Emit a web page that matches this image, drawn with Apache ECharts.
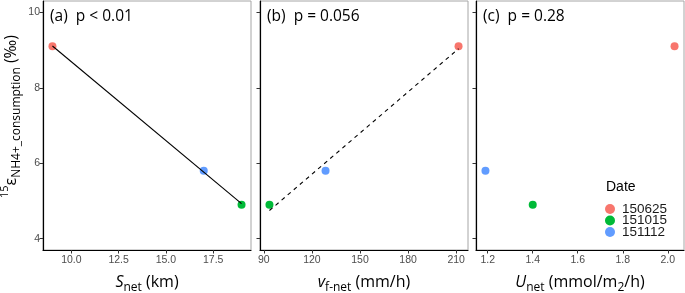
<!DOCTYPE html>
<html>
<head>
<meta charset="utf-8">
<script src="https://cdn.jsdelivr.net/npm/echarts@6/dist/echarts.min.js"></script>
<style>
  html, body { margin: 0; padding: 0; background: #fff; }
  #chart { width: 685px; height: 293px; }
</style>
</head>
<body>
<div id="chart"></div>
<script>
const dates = ['150625', '151015', '151112']
const colors = ['#F8766D', '#00BA38', '#619CFF']

// 15ε NH4+ consumption (‰) per date
const epsilon = [9.1, 4.9, 5.8]
// x variables for the three panels
const sNet = [9.0, 19.0, 17.0]
const vfNet = [211.5, 93.5, 128.5]
const uNet = [2.03, 1.4, 1.19]

const yTicks = [4, 6, 8, 10]
const panelLabels = ['(a)  p < 0.01', '(b)  p = 0.056', '(c)  p = 0.28']

// least squares fit, returns the line over the data range
const fitLine = (xs, ys) => {
  const n = xs.length
  const mx = xs.reduce((a, b) => a + b, 0) / n
  const my = ys.reduce((a, b) => a + b, 0) / n
  let sxy = 0
  let sxx = 0
  xs.forEach((x, i) => {
    sxy += (x - mx) * (ys[i] - my)
    sxx += (x - mx) * (x - mx)
  })
  const slope = sxy / sxx
  const x0 = Math.min(...xs)
  const x1 = Math.max(...xs)
  return [
    [x0, my + slope * (x0 - mx)],
    [x1, my + slope * (x1 - mx)]
  ]
}

const panels = [
  { xs: sNet, min: 8.5, max: 19.5, ticks: [10, 12.5, 15, 17.5], fmt: (v) => v.toFixed(1),
    name: '{it|S}{sub|net}{n| (km)}', fit: 'solid' },
  { xs: vfNet, min: 87.6, max: 217.4, ticks: [90, 120, 150, 180, 210], fmt: (v) => String(v),
    name: '{it|v}{sub|f-net}{n| (mm/h)}', fit: 'dashed' },
  { xs: uNet, min: 1.148, max: 2.072, ticks: [1.2, 1.4, 1.6, 1.8, 2.0], fmt: (v) => v.toFixed(1),
    name: '{it|U}{sub|net}{n| (mmol/m}{sub|2}{n|/h)}', fit: null }
]

const gridLefts = [43, 260, 476]
const gridWidth = 208

const nameRich = {
  n: { fontFamily: 'Open Sans', fontSize: 16, color: '#000', lineHeight: 24 },
  it: { fontFamily: 'Open Sans', fontSize: 16, fontStyle: 'italic', color: '#000', lineHeight: 24 },
  sub: { fontFamily: 'Open Sans', fontSize: 12, color: '#000', lineHeight: 24, verticalAlign: 'bottom', padding: [7, 0, 0, 0] },
  sup: { fontFamily: 'Open Sans', fontSize: 11, color: '#000', lineHeight: 24, verticalAlign: 'top', padding: [0, 0, 1, 0] }
}

const grid = gridLefts.map((left) => ({
  left,
  top: 1,
  width: gridWidth,
  height: 249,
  outerBoundsMode: 'none',
  containLabel: false,
  show: true,
  borderColor: '#a6a6a6',
  borderWidth: 1,
  backgroundColor: '#fff'
}))

const xAxis = panels.map((p, i) => ({
  type: 'value',
  gridIndex: i,
  min: p.min,
  max: p.max,
  name: p.name,
  nameLocation: 'middle',
  nameGap: 20,
  nameTextStyle: { rich: nameRich },
  splitLine: { show: false },
  axisLine: { show: true, onZero: false, lineStyle: { color: '#000', width: 1.2 } },
  axisTick: { show: true, length: 3.5, customValues: p.ticks, lineStyle: { color: '#333' } },
  axisLabel: {
    customValues: p.ticks,
    formatter: p.fmt,
    color: '#4d4d4d',
    fontFamily: 'Liberation Sans',
    fontSize: 10.5,
    margin: 5
  }
}))

const yAxis = panels.map((p, i) => ({
  type: 'value',
  gridIndex: i,
  min: 3.7,
  max: 10.3,
  name: i === 0 ? '{sup|15}{n|ε}{sub|NH4+_consumption}{n| (‰)}' : '',
  nameLocation: 'middle',
  nameRotate: 90,
  nameGap: 20,
  nameTextStyle: { rich: nameRich, padding: [0, 0, 0, 18] },
  splitLine: { show: false },
  axisLine: { show: true, onZero: false, lineStyle: { color: '#000', width: 1.2 } },
  axisTick: { show: true, length: 3.5, customValues: yTicks, lineStyle: { color: '#333' } },
  axisLabel: {
    show: i === 0,
    customValues: yTicks,
    color: '#4d4d4d',
    fontFamily: 'Liberation Sans',
    fontSize: 10.5,
    margin: 3
  }
}))

const series = []
panels.forEach((p, i) => {
  dates.forEach((d, k) => {
    series.push({
      name: d,
      type: 'scatter',
      xAxisIndex: i,
      yAxisIndex: i,
      symbolSize: 8,
      itemStyle: { color: colors[k], opacity: 1 },
      data: [[p.xs[k], epsilon[k]]],
      z: 3
    })
  })
  if (p.fit) {
    series.push({
      name: 'fit' + i,
      type: 'line',
      xAxisIndex: i,
      yAxisIndex: i,
      symbol: 'none',
      silent: true,
      lineStyle: { color: '#000', width: 1.1, type: p.fit === 'dashed' ? [4, 4] : 'solid' },
      data: fitLine(p.xs, epsilon),
      z: 4
    })
  }
})

const chart = echarts.init(document.getElementById('chart'))
chart.setOption({
  animation: false,
  backgroundColor: '#fff',
  title: [
    ...panelLabels.map((t, i) => ({
      text: t,
      left: gridLefts[i] + 7,
      top: 9,
      padding: 0,
      textStyle: { fontFamily: 'Open Sans', fontSize: 15.5, fontWeight: 'normal', color: '#000' }
    })),
    {
      text: 'Date',
      left: 606,
      top: 180,
      padding: 0,
      textStyle: { fontFamily: 'Liberation Sans', fontSize: 14, fontWeight: 'normal', color: '#000' }
    }
  ],
  legend: {
    data: dates,
    orient: 'vertical',
    left: 605,
    top: 202,
    icon: 'circle',
    itemWidth: 10,
    itemHeight: 10,
    itemGap: -2.5,
    padding: 0,
    textStyle: { fontFamily: 'Liberation Sans', fontSize: 13.5, color: '#1a1a1a', padding: [0, 0, 0, 2] }
  },
  grid,
  xAxis,
  yAxis,
  series
})
</script>
</body>
</html>
